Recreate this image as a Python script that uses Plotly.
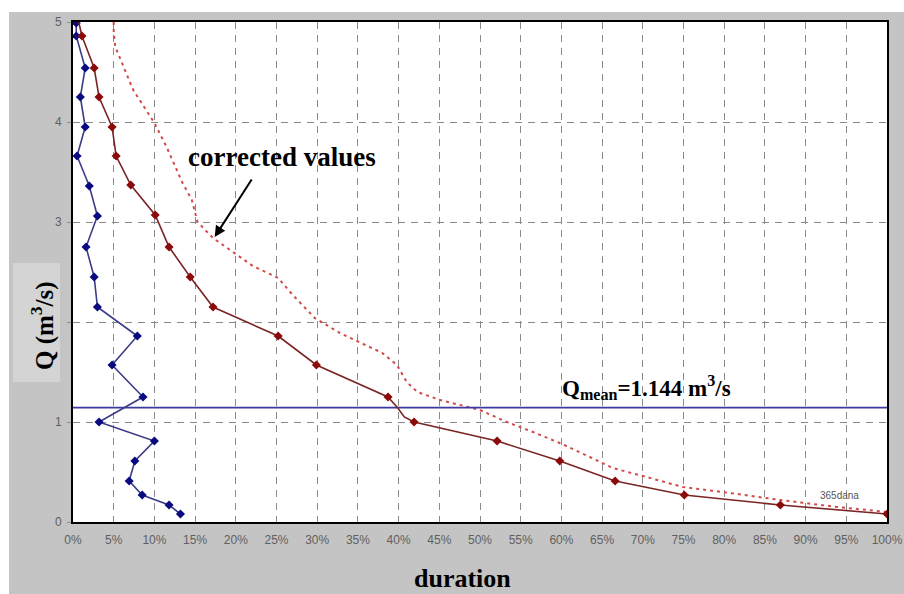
import plotly.graph_objects as go

# ---- data (duration %, discharge m3/s) ----
blue_x = [0.4, 0.4, 1.5, 0.9, 1.5, 0.5, 2.0, 3.0, 1.6, 2.6, 3.0, 7.9, 4.8, 8.6, 3.2, 10.0, 7.6, 6.9, 8.5, 11.8, 13.2]
blue_y = [4.99, 4.86, 4.54, 4.25, 3.95, 3.66, 3.36, 3.06, 2.75, 2.45, 2.15, 1.86, 1.57, 1.25, 1.00, 0.81, 0.61, 0.41, 0.27, 0.17, 0.08]

red_line_x = [0.7, 1.1, 2.6, 3.2, 4.8, 5.3, 7.1, 10.1, 11.8, 14.4, 17.2, 25.2, 29.9, 38.7, 39.9, 40.7, 41.9, 52.1, 59.8, 66.6, 75.1, 86.9, 100.0]
red_line_y = [5.0, 4.86, 4.54, 4.25, 3.95, 3.66, 3.37, 3.07, 2.75, 2.45, 2.15, 1.86, 1.57, 1.25, 1.14, 1.05, 1.00, 0.81, 0.61, 0.41, 0.27, 0.17, 0.08]
red_mark_x = [1.1, 2.6, 3.2, 4.8, 5.3, 7.1, 10.1, 11.8, 14.4, 17.2, 25.2, 29.9, 38.7, 41.9, 52.1, 59.8, 66.6, 75.1, 86.9, 100.0]
red_mark_y = [4.86, 4.54, 4.25, 3.95, 3.66, 3.37, 3.07, 2.75, 2.45, 2.15, 1.86, 1.57, 1.25, 1.00, 0.81, 0.61, 0.41, 0.27, 0.17, 0.08]

corr_x = [5.0, 5.0, 5.2, 7.4, 10.0, 11.5, 13.4, 14.6, 15.3, 17.2, 22.1, 25.2, 27.0, 29.7, 32.8, 35.3, 38.0, 39.8, 41.0, 42.3, 45.1, 50.0, 53.3, 56.5, 59.8, 63.5, 66.3, 70.0, 74.9, 80.7, 86.9, 93.9, 100.0]
corr_y = [5.0, 4.90, 4.75, 4.32, 3.99, 3.75, 3.40, 3.22, 3.00, 2.84, 2.56, 2.44, 2.27, 2.04, 1.89, 1.79, 1.69, 1.57, 1.40, 1.30, 1.22, 1.12, 1.00, 0.90, 0.79, 0.65, 0.54, 0.46, 0.35, 0.29, 0.22, 0.15, 0.10]

q_mean = 1.144
x_ticks = list(range(0, 101, 5))
x_tick_labels = [f"{v}%" for v in x_ticks]
y_ticks = [0, 1, 2, 3, 4, 5]
y_tick_labels = ["0", "1", "", "3", "4", "5"]

# ---- figure ----
fig = go.Figure()
fig.add_trace(go.Scatter(x=corr_x, y=corr_y, mode="lines",
                         line=dict(color="#d24a4a", width=2, dash="3px,4px"),
                         hoverinfo="skip"))
fig.add_trace(go.Scatter(x=[0, 100], y=[q_mean, q_mean], mode="lines",
                         line=dict(color="#3a3aa0", width=1.6), hoverinfo="skip"))
fig.add_trace(go.Scatter(x=blue_x, y=blue_y, mode="lines+markers",
                         line=dict(color="#3c3c88", width=1.6),
                         marker=dict(symbol="diamond", size=7, color="#0a0a80")))
fig.add_trace(go.Scatter(x=red_line_x, y=red_line_y, mode="lines",
                         line=dict(color="#7a2424", width=1.6)))
fig.add_trace(go.Scatter(x=red_mark_x, y=red_mark_y, mode="markers",
                         marker=dict(symbol="diamond", size=7, color="#8b0a0a")))

serif = "Liberation Serif, Times New Roman, serif"
sans = "Liberation Sans, Arial, sans-serif"

fig.update_layout(
    width=904, height=594, autosize=False,
    margin=dict(l=73, r=17, t=22, b=72, pad=0),
    paper_bgcolor="#c4c4c4",
    plot_bgcolor="white",
    showlegend=False,
    xaxis=dict(range=[0, 100], tickvals=x_ticks, ticktext=x_tick_labels,
               showgrid=True, gridcolor="#8a8a8a", gridwidth=1, griddash="7px,6px",
               showline=True, linecolor="black", linewidth=2, mirror=True,
               zeroline=False, ticks="", ticklabelstandoff=6, automargin=False,
               tickfont=dict(family=sans, size=12, color="#606060")),
    yaxis=dict(range=[0, 5], tickvals=y_ticks, ticktext=y_tick_labels,
               showgrid=True, gridcolor="#8a8a8a", gridwidth=1, griddash="7px,6px",
               showline=True, linecolor="black", linewidth=2, mirror=True,
               zeroline=False, ticks="outside", ticklen=4, tickcolor="#909090",
               ticklabelstandoff=3, automargin=False,
               tickfont=dict(family=sans, size=12, color="#606060")),
    shapes=[
        # white strips along the top and left edges of the picture
        dict(type="rect", xref="paper", yref="paper", x0=-0.1, x1=1.1, y0=1.02, y1=1.1,
             fillcolor="white", line=dict(width=0), layer="above"),
        dict(type="rect", xref="paper", yref="paper", x0=-0.1, x1=-0.0786, y0=-0.2, y1=1.1,
             fillcolor="white", line=dict(width=0), layer="above"),
        # lighter box behind the y-axis title
        dict(type="rect", xref="paper", yref="paper", x0=-0.0737, x1=-0.016, y0=0.28, y1=0.518,
             fillcolor="#d4d4d4", line=dict(width=0), layer="below"),
    ],
    annotations=[
        dict(x=-0.038, y=0.392, xref="paper", yref="paper", textangle=-90, showarrow=False,
             xanchor="center", yanchor="middle",
             text="<b>Q (m<sup>3</sup>/s)</b>", font=dict(family=serif, size=25, color="black")),
        dict(x=0.478, y=-0.112, xref="paper", yref="paper", showarrow=False,
             xanchor="center", yanchor="middle",
             text="<b>duration</b>", font=dict(family=serif, size=26, color="black")),
        dict(x=25.7, y=3.65, xref="x", yref="y", showarrow=False,
             xanchor="center", yanchor="middle",
             text="<b>corrected values</b>", font=dict(family=serif, size=27, color="black")),
        dict(x=17.4, y=2.85, xref="x", yref="y", ax=38, ay=-59, showarrow=True,
             arrowhead=2, arrowsize=1.1, arrowwidth=2, arrowcolor="black", text=""),
        dict(x=70.4, y=1.35, xref="x", yref="y", showarrow=False,
             xanchor="center", yanchor="middle",
             text="<b>Q<sub>mean</sub>=1.144 m<sup>3</sup>/s</b>",
             font=dict(family=serif, size=23, color="black")),
        dict(x=94.2, y=0.27, xref="x", yref="y", showarrow=False,
             xanchor="center", yanchor="middle",
             text="365dana", font=dict(family=sans, size=10, color="#555555")),
    ],
)

fig.write_html("out.html", config={"responsive": False, "displayModeBar": False})
